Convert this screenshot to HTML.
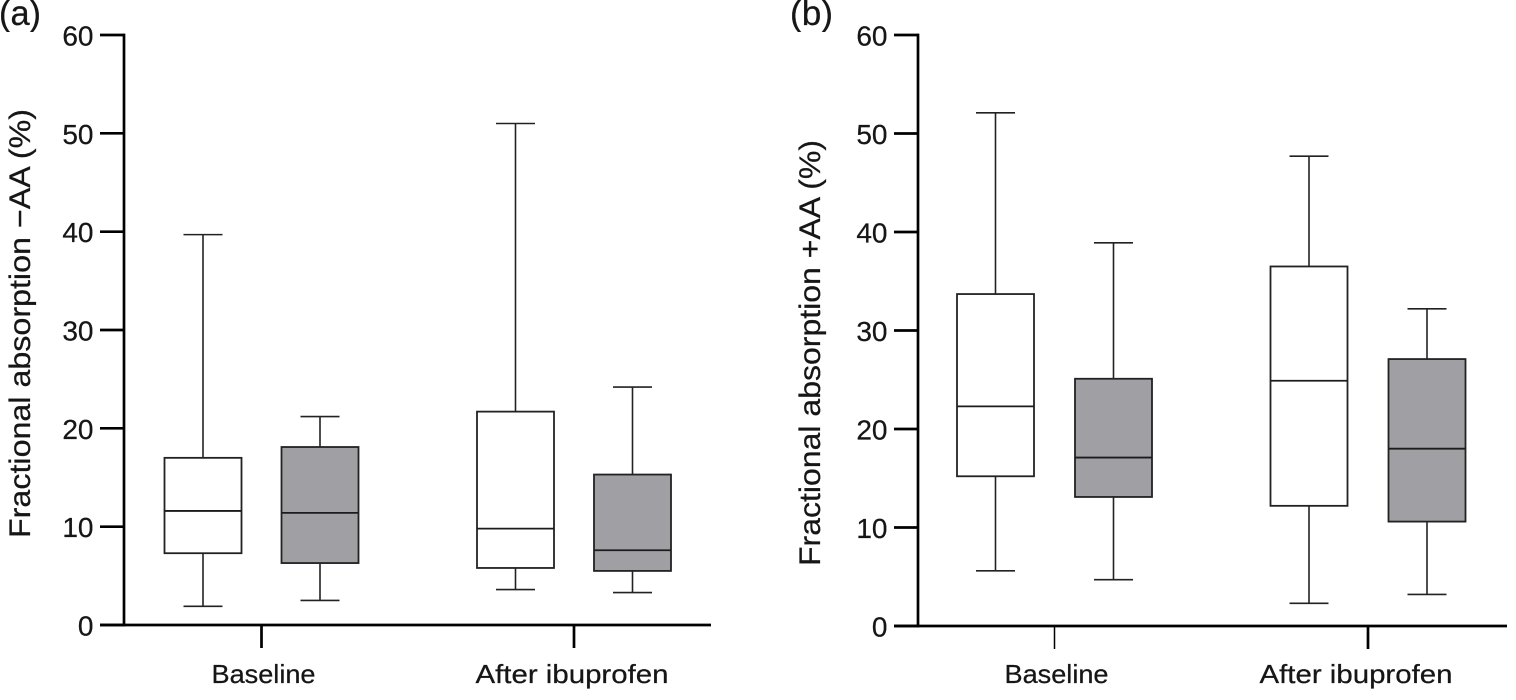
<!DOCTYPE html>
<html lang="en">
<head>
<meta charset="utf-8">
<title>Fractional absorption box plots</title>
<style>
html,body{margin:0;padding:0;background:#fff;width:1516px;height:700px;overflow:hidden}
svg{display:block}
text{font-family:"Liberation Sans",sans-serif;fill:#161616;stroke:#161616;stroke-width:0.25px}
</style>
</head>
<body>
<svg id="chart" width="1516" height="700" viewBox="0 0 1516 700" xmlns="http://www.w3.org/2000/svg">
  <defs>
    <clipPath id="label-clip"><rect x="-5" y="0" width="1521" height="32"/></clipPath>
  </defs>
  <rect width="1516" height="700" fill="#fff"/>
  <g clip-path="url(#label-clip)">
    <text x="-1" y="25" font-size="35" textLength="42" lengthAdjust="spacingAndGlyphs">(a)</text>
    <text x="790" y="25" font-size="35" textLength="43" lengthAdjust="spacingAndGlyphs">(b)</text>
  </g>
  <text transform="translate(30,538) rotate(-90)" font-size="30" textLength="429" lengthAdjust="spacingAndGlyphs">Fractional absorption −AA (%)</text>
  <text transform="translate(820,566) rotate(-90)" font-size="30" textLength="426" lengthAdjust="spacingAndGlyphs">Fractional absorption +AA (%)</text>
  <g id="panel-a"></g>
  <g id="panel-b"></g>
</svg>
<script>
const categories = ["Baseline", "After ibuprofen"];
const yTicks = [0, 10, 20, 30, 40, 50, 60];
const seriesNames = ["white", "grey"];

// Panel (a): order = baseline white, baseline grey, after white, after grey
const aLow = [1.9, 2.5, 3.6, 3.3];
const aQ1 = [7.3, 6.3, 5.8, 5.5];
const aMedian = [11.6, 11.4, 9.8, 7.6];
const aQ3 = [17.0, 18.1, 21.7, 15.3];
const aHigh = [39.7, 21.2, 51.0, 24.2];

// Panel (b): same order
const bLow = [5.6, 4.7, 2.3, 3.2];
const bQ1 = [15.2, 13.1, 12.2, 10.6];
const bMedian = [22.3, 17.1, 24.9, 18.0];
const bQ3 = [33.7, 25.1, 36.5, 27.1];
const bHigh = [52.1, 38.9, 47.7, 32.2];

const NS = "http://www.w3.org/2000/svg";
const INK = "#222222";

function addLine(parent, x1, y1, x2, y2, width, color) {
  const el = document.createElementNS(NS, "line");
  el.setAttribute("x1", x1);
  el.setAttribute("y1", y1);
  el.setAttribute("x2", x2);
  el.setAttribute("y2", y2);
  el.setAttribute("stroke", color);
  el.setAttribute("stroke-width", width);
  parent.appendChild(el);
  return el;
}

function drawPanel(id, cfg, low, q1, median, q3, high) {
  const root = document.getElementById(id);
  const yScale = v => cfg.y0 - (v / 60) * (cfg.y0 - cfg.y60);
  const xGroup = i => cfg.group0 + i * cfg.groupStep;
  const xBox = (i, s) => xGroup(i) + (s === 0 ? -cfg.offset : cfg.offset);

  // y axis
  const yAxis = addLine(root, cfg.axisX, cfg.y60 - 1.35, cfg.axisX, cfg.y0 + 1.35, 2.7, "#000");
  
  
  yTicks.forEach(t => {
    const tick = addLine(root, cfg.axisX - 24, yScale(t), cfg.axisX, yScale(t), 2.7, "#000");
    
    
    const label = document.createElementNS(NS, "text");
    label.textContent = String(t);
    label.setAttribute("x", cfg.axisX - 30.5);
    label.setAttribute("y", yScale(t) + 10.5);
    label.setAttribute("text-anchor", "end");
    label.setAttribute("font-size", "28");
    
    
    root.appendChild(label);
  });

  // x axis
  const xAxis = addLine(root, cfg.axisX - 24, cfg.y0, cfg.axisEnd, cfg.y0, 2.7, "#000");
  
  
  categories.forEach((c, i) => {
    const tick = addLine(root, xGroup(i), cfg.y0, xGroup(i), cfg.y0 + 23, cfg.catTickWidths[i], "#000");
    
    
    const label = document.createElementNS(NS, "text");
    label.textContent = c;
    label.setAttribute("x", xGroup(i) + cfg.catLabelShift[i]);
    label.setAttribute("y", 683);
    label.setAttribute("text-anchor", "middle");
    label.setAttribute("font-size", "26");
    label.setAttribute("textLength", cfg.catLabelWidths[i]);
    label.setAttribute("lengthAdjust", "spacingAndGlyphs");
    
    
    root.appendChild(label);
  });

  // boxes
  categories.forEach((c, i) => {
    seriesNames.forEach((s, j) => {
      const k = i * 2 + j;
      const cx = xBox(i, j);
      const g = document.createElementNS(NS, "g");
      
      
      root.appendChild(g);

      const stem = addLine(g, cx, yScale(high[k]), cx, yScale(low[k]), 1.6, INK);
      
      

      const capTop = addLine(g, cx - cfg.cap, yScale(high[k]), cx + cfg.cap, yScale(high[k]), 1.6, INK);
      
      

      const capBottom = addLine(g, cx - cfg.cap, yScale(low[k]), cx + cfg.cap, yScale(low[k]), 1.6, INK);
      
      

      const box = document.createElementNS(NS, "rect");
      box.setAttribute("x", cx - cfg.half);
      box.setAttribute("y", yScale(q3[k]));
      box.setAttribute("width", cfg.half * 2);
      box.setAttribute("height", yScale(q1[k]) - yScale(q3[k]));
      box.setAttribute("fill", j === 0 ? "#ffffff" : "#a09fa3");
      box.setAttribute("stroke", INK);
      box.setAttribute("stroke-width", "1.8");
      
      
      g.appendChild(box);

      const med = addLine(g, cx - cfg.half, yScale(median[k]), cx + cfg.half, yScale(median[k]), 1.8, "#1c1c1c");
      
      
    });
  });
}

drawPanel("panel-a", {
  axisX: 124, axisEnd: 711, y0: 625, y60: 35,
  group0: 261.5, groupStep: 312.5, offset: 58.5, half: 38.5, cap: 19.5,
  catTickWidths: [2.7, 2.7], catLabelWidths: [104, 193], catLabelShift: [2, -2]
}, aLow, aQ1, aMedian, aQ3, aHigh);

drawPanel("panel-b", {
  axisX: 918, axisEnd: 1507, y0: 626, y60: 35,
  group0: 1054.5, groupStep: 313.5, offset: 59, half: 38.5, cap: 19.5,
  catTickWidths: [1.5, 2.7], catLabelWidths: [104, 193], catLabelShift: [2, -12]
}, bLow, bQ1, bMedian, bQ3, bHigh);
</script>
</body>
</html>
